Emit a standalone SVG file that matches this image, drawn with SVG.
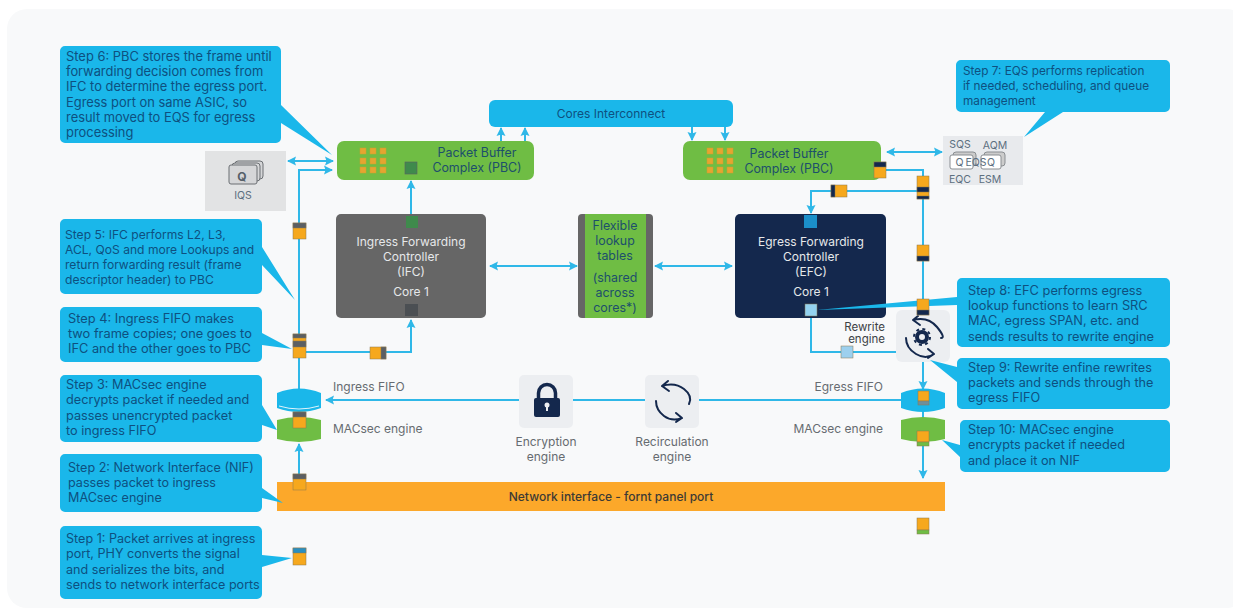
<svg xmlns="http://www.w3.org/2000/svg" width="1233" height="609" viewBox="0 0 1233 609">
<style>
text{font-family:Inter,"Liberation Sans",sans-serif}
.co{fill:#1ab7ea}
.ct{font-size:12.6px;fill:#0e5080}
.lb{font-size:12px;fill:#666b70}
.mid{text-anchor:middle}
.end{text-anchor:end}
.cn{fill:none;stroke:#2fb8e8;stroke-width:2}
.g{fill:#6fbd44}
.o{fill:#f6a81d}
.k{fill:#5b5f63}
.n{fill:#14284d}
.w{fill:#e6e8ea;font-size:12px}
.b{fill:#1d4f6b;font-size:12.4px}
.ic{fill:none;stroke:#14284d;stroke-width:2;stroke-linecap:round;stroke-linejoin:round}
.sv{font-size:10.500px;fill:#5c6f80}
</style>
<defs>
<marker id="a" viewBox="0 0 10 10" refX="9" refY="5" markerWidth="5" markerHeight="5" orient="auto-start-reverse" markerUnits="strokeWidth"><path d="M1 0.500L10 5L1 9.500L2.500 5Z" fill="#2fb8e8"/></marker>
<g id="grid"><g fill="#e5a530" stroke="#c9a02e" stroke-width=".5"><rect x="0" y="0" width="6" height="6"/><rect x="10" y="0" width="6" height="6"/><rect x="20" y="0" width="6" height="6"/><rect x="0" y="10" width="6" height="6"/><rect x="10" y="10" width="6" height="6"/><rect x="20" y="10" width="6" height="6"/><rect x="0" y="19" width="6" height="6"/><rect x="10" y="19" width="6" height="6"/><rect x="20" y="19" width="6" height="6"/></g></g>
</defs>
<rect width="1233" height="609" fill="#fff"/>
<rect x="7" y="9" width="1240" height="599" rx="20" fill="#f8f9fa"/>

<g id="connectors">
<path class="cn" d="M299 390V170H332" marker-end="url(#a)"/>
<path class="cn" d="M299 479V444" marker-end="url(#a)"/>
<path class="cn" d="M299 352H411V320" marker-end="url(#a)"/>
<path class="cn" d="M288 161H333" marker-start="url(#a)" marker-end="url(#a)"/>
<path class="cn" d="M411 214V181" marker-end="url(#a)"/>
<path class="cn" d="M501 141V128" marker-end="url(#a)"/>
<path class="cn" d="M525 141V128" marker-end="url(#a)"/>
<path class="cn" d="M692 127V140" marker-end="url(#a)"/>
<path class="cn" d="M725 127V140" marker-end="url(#a)"/>
<path class="cn" d="M490 266H577" marker-start="url(#a)" marker-end="url(#a)"/>
<path class="cn" d="M655 266H732" marker-start="url(#a)" marker-end="url(#a)"/>
<path class="cn" d="M887 152H942" marker-start="url(#a)" marker-end="url(#a)"/>
<path class="cn" d="M886 170H923V310"/>
<path class="cn" d="M923 191H811V213" marker-end="url(#a)"/>
<path class="cn" d="M811 316V352H896"/>
<path class="cn" d="M923 362V389" marker-end="url(#a)"/>
<path class="cn" d="M923 410V419"/>
<path class="cn" d="M923 442V478" marker-end="url(#a)"/>
<path class="cn" d="M901 400H326" marker-end="url(#a)"/>
</g>

<g id="panel-iqs"><rect x="205" y="151" width="81" height="60" fill="#e2e3e4"/>
<g fill="#d5d6d8" stroke="#6b6f73"><rect x="235" y="161" width="28" height="18" rx="3"/><rect x="232" y="163" width="28" height="18" rx="3"/><rect x="229" y="165" width="28" height="19" rx="2"/></g>
<text x="242" y="181" class="mid" style="font-size:12px;font-weight:700;fill:#56606a">Q</text>
<text x="243" y="199" class="mid sv">IQS</text></g>

<g id="pbc-left"><rect x="337" y="141" width="197" height="39" rx="7" class="g"/><use href="#grid" x="360" y="148"/><rect x="405" y="162" width="12" height="12" fill="#3f8a4c" stroke="#5b5f63" stroke-width=".6"/>
<text x="477" y="157" class="mid b">Packet Buffer</text><text x="477" y="172" class="mid b">Complex (PBC)</text></g>
<g id="pbc-right"><rect x="683" y="141" width="198" height="39" rx="7" class="g"/><use href="#grid" x="707" y="148"/>
<text x="789" y="158" class="mid b">Packet Buffer</text><text x="789" y="173" class="mid b">Complex (PBC)</text></g>
<g id="cores-interconnect"><rect x="489" y="100" width="244" height="27" rx="6" class="co"/><text x="611" y="118" class="mid ct" style="font-size:12px">Cores Interconnect</text></g>

<g id="ifc"><rect x="336" y="214" width="150" height="104" rx="5" fill="#666"/><rect x="406" y="216" width="12" height="12" fill="#3f8a4c"/><rect x="405" y="304" width="13" height="12" fill="#4b4f53"/>
<text x="411" y="246" class="mid w">Ingress Forwarding</text><text x="411" y="261" class="mid w">Controller</text><text x="411" y="276" class="mid w">(IFC)</text><text x="411" y="296" class="mid w">Core 1</text></g>
<g id="flexible-lookup"><rect x="578" y="214" width="75" height="104" rx="4" fill="#666"/><rect x="585" y="214" width="61" height="104" class="g"/>
<g class="mid b"><text x="615" y="230">Flexible</text><text x="615" y="245">lookup</text><text x="615" y="260">tables</text><text x="615" y="282">(shared</text><text x="615" y="297">across</text><text x="615" y="312">cores*)</text></g></g>
<g id="efc"><rect x="735" y="214" width="151" height="104" rx="5" class="n"/><rect x="804" y="215" width="13" height="13" fill="#1b8fc9"/>
<text x="811" y="246" class="mid w">Egress Forwarding</text><text x="811" y="261" class="mid w">Controller</text><text x="811" y="276" class="mid w">(EFC)</text><text x="811" y="296" class="mid w">Core 1</text></g>

<g id="ingress-fifo"><path d="M277 393Q299 384 321 393V408Q299 416 277 408Z" class="co"/><path d="M279 406Q299 412 319 406" fill="none" stroke="#dff3fb" stroke-width="1"/><text x="333" y="391" class="lb">Ingress FIFO</text></g>
<g id="ingress-macsec"><path d="M277 420Q299 414 321 420V439Q299 445 277 439Z" class="g"/><text x="333" y="433" class="lb">MACsec engine</text></g>
<g id="egress-fifo"><path d="M901 393Q923 384 945 393V408Q923 416 901 408Z" class="co"/><text x="883" y="391" class="lb end">Egress FIFO</text></g>
<g id="egress-macsec"><path d="M901 420Q923 414 945 420V439Q923 445 901 439Z" class="g"/><text x="883" y="433" class="lb end">MACsec engine</text></g>

<g id="encryption"><rect x="519" y="375" width="54" height="53" rx="5" fill="#eceef1"/><rect x="534" y="398" width="26" height="19" rx="2" class="n"/><path d="M538.500 399V393a8.500 8.500 0 0 1 17 0V399" fill="none" stroke="#14284d" stroke-width="3.500"/><circle cx="547" cy="405" r="2.500" fill="#eceef1"/><rect x="546" y="405" width="2" height="6" fill="#eceef1"/>
<text x="546" y="446" class="mid lb">Encryption</text><text x="546" y="461" class="mid lb">engine</text></g>
<g id="recirculation"><rect x="645" y="375" width="54" height="53" rx="5" fill="#eceef1"/><path class="ic" d="M662 386Q675 382 684 389T689 404M662 386L668 381M662 386L669 391M656 401Q656 410 664 416T682 418M682 418L676 413M682 418L676 422"/>
<text x="672" y="446" class="mid lb">Recirculation</text><text x="672" y="461" class="mid lb">engine</text></g>
<g id="rewrite"><rect x="896" y="310" width="54" height="52" rx="6" fill="#eceef1"/><path class="ic" d="M913 320Q928 316 937 327T941 338M913 320L918 316M913 320L920 325M906 338Q906 348 916 354T934 354M934 354L928 349M934 354L928 358"/><circle cx="922" cy="337" r="5" fill="none" stroke="#14284d" stroke-width="4"/><circle cx="922" cy="337" r="8" fill="none" stroke="#14284d" stroke-width="2" stroke-dasharray="3 3.300"/>
<text x="885" y="331" class="end" style="font-size:11.500px;fill:#3d4246">Rewrite</text><text x="885" y="343" class="end" style="font-size:11.500px;fill:#3d4246">engine</text></g>

<g id="eqs"><rect x="943" y="136" width="80" height="49" fill="#e8eaed"/>
<rect x="953" y="152" width="23" height="14" rx="3" fill="#ccc" stroke="#8a8e92"/><rect x="950" y="155" width="23" height="14" rx="2" fill="#fff" stroke="#8a8e92"/><rect x="984" y="152" width="21" height="14" rx="3" fill="#ccc" stroke="#8a8e92"/><rect x="981" y="155" width="20" height="14" rx="2" fill="#fff" stroke="#8a8e92"/>
<text x="960" y="148" class="mid sv">SQS</text><text x="995" y="149" class="mid sv">AQM</text><text x="959.500" y="166" class="mid sv">Q</text><text x="976" y="166" class="mid sv">EQS</text><text x="991" y="166" class="mid sv">Q</text><text x="960" y="183" class="mid sv">EQC</text><text x="990" y="183" class="mid sv">ESM</text></g>

<g id="network-interface"><rect x="277" y="482" width="668" height="29" fill="#fca82a"/><text x="611" y="501" class="mid" style="font-size:12px;font-weight:500;fill:#3c3a35">Network interface - fornt panel port</text></g>

<g id="packets" stroke="#8a7a50" stroke-width=".5">
<g id="pkt-a"><rect x="293" y="223" width="13" height="16" class="o"/><rect x="293" y="223" width="13" height="5" class="k"/></g>
<g id="pkt-b"><rect x="293" y="334" width="13" height="24" class="o"/><rect x="293" y="334" width="13" height="4" class="k"/><rect x="293" y="341" width="13" height="6" class="k"/></g>
<g id="pkt-c"><rect x="370" y="347" width="16" height="12" class="o"/><rect x="381" y="347" width="5" height="12" class="k"/></g>
<g id="pkt-d"><rect x="293" y="412" width="13" height="16" class="o"/><rect x="293" y="412" width="13" height="5" class="k"/></g>
<g id="pkt-e"><rect x="293" y="474" width="13" height="16" class="o"/><rect x="293" y="474" width="13" height="5" class="k"/></g>
<g id="pkt-f"><rect x="293" y="548" width="13" height="17" class="o"/><rect x="293" y="548" width="13" height="5" fill="#2a8fc0"/></g>
<g id="pkt-g"><rect x="874" y="162" width="12" height="16" class="o"/><rect x="874" y="162" width="12" height="5" class="n"/></g>
<g id="pkt-h"><rect x="917" y="176" width="12" height="23" class="o"/><rect x="917" y="187" width="12" height="5" class="n"/><rect x="917" y="196" width="12" height="3" class="n"/></g>
<g id="pkt-i"><rect x="831" y="185" width="16" height="12" class="o"/><rect x="831" y="185" width="4" height="12" class="n"/></g>
<g id="pkt-j"><rect x="917" y="245" width="12" height="16" class="o"/><rect x="917" y="256" width="12" height="5" class="n"/></g>
</g>

<g id="step-1"><path class="co" d="M65 526H257a5 5 0 0 1 5 5V555L292 558L262 567V594a5 5 0 0 1-5 5H65a5 5 0 0 1-5-5V531a5 5 0 0 1 5-5Z"/><g class="ct"><text x="66" y="543">Step 1: Packet arrives at ingress</text><text x="66" y="558">port, PHY converts the signal</text><text x="66" y="574">and serializes the bits, and</text><text x="66" y="589">sends to network interface ports</text></g></g>
<g id="step-2"><path class="co" d="M65 454H257a5 5 0 0 1 5 5V488L283 503L262 498V507a5 5 0 0 1-5 5H65a5 5 0 0 1-5-5V459a5 5 0 0 1 5-5Z"/><g class="ct"><text x="68" y="472">Step 2: Network Interface (NIF)</text><text x="68" y="487">passes packet to ingress</text><text x="68" y="502">MACsec engine</text></g></g>
<g id="step-3"><path class="co" d="M65 375H257a5 5 0 0 1 5 5V405L277 430L262 425V437a5 5 0 0 1-5 5H65a5 5 0 0 1-5-5V380a5 5 0 0 1 5-5Z"/><g class="ct" style="font-size:12.700px"><text x="66" y="389">Step 3: MACsec engine</text><text x="66" y="404">decrypts packet if needed and</text><text x="66" y="420">passes unencrypted packet</text><text x="66" y="435">to ingress FIFO</text></g></g>
<g id="step-4"><path class="co" d="M65 307H257a5 5 0 0 1 5 5V333L292 349L262 345V357a5 5 0 0 1-5 5H65a5 5 0 0 1-5-5V312a5 5 0 0 1 5-5Z"/><g class="ct" style="font-size:12.800px"><text x="68" y="323">Step 4: Ingress FIFO makes</text><text x="68" y="338">two frame copies; one goes to</text><text x="68" y="353">IFC and the other goes to PBC</text></g></g>
<g id="step-5"><path class="co" d="M65 219H257a5 5 0 0 1 5 5V247L295 300L262 265V289a5 5 0 0 1-5 5H65a5 5 0 0 1-5-5V224a5 5 0 0 1 5-5Z"/><g class="ct" style="font-size:12.100px"><text x="65" y="239">Step 5: IFC performs L2, L3,</text><text x="65" y="254">ACL, QoS and more Lookups and</text><text x="65" y="269">return forwarding result (frame</text><text x="65" y="284">descriptor header) to PBC</text></g></g>
<g id="step-6"><path class="co" d="M65 46H276a5 5 0 0 1 5 5V105L332 155L281 123V138a5 5 0 0 1-5 5H65a5 5 0 0 1-5-5V51a5 5 0 0 1 5-5Z"/><g class="ct" style="font-size:12.900px"><text x="66" y="61">Step 6: PBC stores the frame until</text><text x="66" y="76">forwarding decision comes from</text><text x="66" y="91">IFC to determine the egress port.</text><text x="66" y="107">Egress port on same ASIC, so</text><text x="66" y="122">result moved to EQS for egress</text><text x="66" y="137">processing</text></g></g>
<g id="step-7"><path class="co" d="M961 60H1165a5 5 0 0 1 5 5V107a5 5 0 0 1-5 5H1063L1024 137L1045 112H961a5 5 0 0 1-5-5V65a5 5 0 0 1 5-5Z"/><g class="ct" style="font-size:11.800px"><text x="963" y="75">Step 7: EQS performs replication</text><text x="963" y="90">if needed, scheduling, and queue</text><text x="963" y="105">management</text></g></g>
<g id="step-8"><path class="co" d="M962 278H1165a5 5 0 0 1 5 5V342a5 5 0 0 1-5 5H962a5 5 0 0 1-5-5V305L817 310L957 297V283a5 5 0 0 1 5-5Z"/><g class="ct" style="font-size:12.800px"><text x="968" y="295">Step 8: EFC performs egress</text><text x="968" y="310">lookup functions to learn SRC</text><text x="968" y="325">MAC, egress SPAN, etc. and</text><text x="968" y="341">sends results to rewrite engine</text></g></g>
<g id="step-9"><path class="co" d="M962 358H1165a5 5 0 0 1 5 5V404a5 5 0 0 1-5 5H962a5 5 0 0 1-5-5V382L930 360L957 367V363a5 5 0 0 1 5-5Z"/><g class="ct" style="font-size:12.700px"><text x="968" y="372">Step 9: Rewrite enfine rewrites</text><text x="968" y="387">packets and sends through the</text><text x="968" y="402">egress FIFO</text></g></g>
<g id="step-10"><path class="co" d="M965 420H1165a5 5 0 0 1 5 5V467a5 5 0 0 1-5 5H965a5 5 0 0 1-5-5V457L942 440L960 445V425a5 5 0 0 1 5-5Z"/><g class="ct" style="font-size:12.700px"><text x="968" y="434">Step 10: MACsec engine</text><text x="968" y="449">encrypts packet if needed</text><text x="968" y="465">and place it on NIF</text></g></g>
<g id="packets-right" stroke="#8a7a50" stroke-width=".5">
<rect x="917" y="299" width="12" height="16" class="o"/><rect x="917" y="310" width="12" height="5" class="n"/>
<rect x="805" y="304" width="12" height="12" fill="#93d2f0"/><rect x="841" y="346" width="12" height="12" fill="#9dd0ee"/>
<rect x="918" y="391" width="11" height="10" class="o"/><rect x="918" y="401" width="11" height="4" fill="#6f8f9a"/>
<rect x="917" y="431" width="12" height="11" class="o"/><rect x="917" y="442" width="12" height="4" class="g"/>
<rect x="917" y="518" width="12" height="12" class="o"/><rect x="917" y="530" width="12" height="4" class="g"/></g>
</svg>
